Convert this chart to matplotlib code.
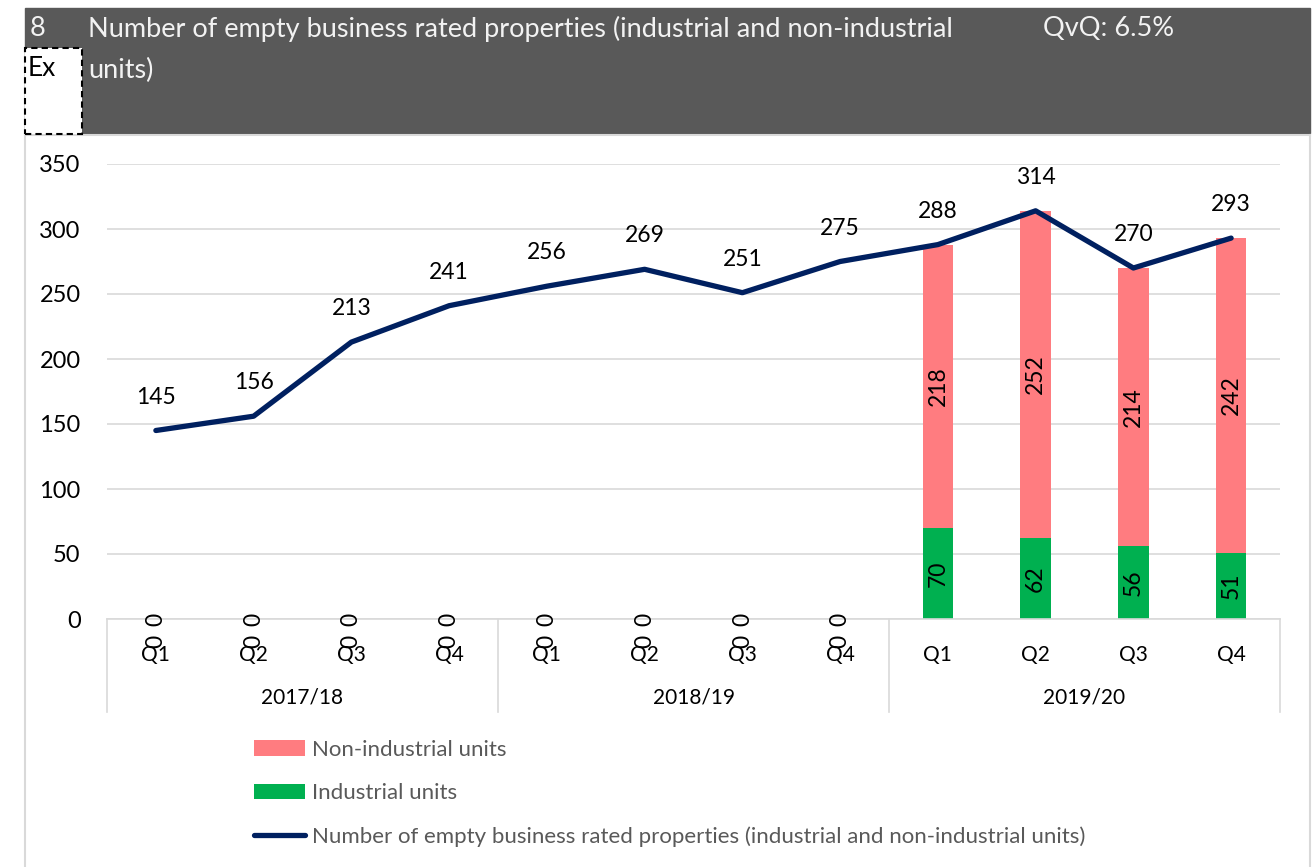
import matplotlib.pyplot as plt
from matplotlib.patches import Rectangle
from matplotlib.lines import Line2D
import matplotlib.transforms as mtransforms

plt.rcParams['font.family'] = ['Lato', 'DejaVu Sans']

# data
years = ['2017/18', '2018/19', '2019/20']
quarters = ['Q1', 'Q2', 'Q3', 'Q4'] * 3
total = [145, 156, 213, 241, 256, 269, 251, 275, 288, 314, 270, 293]
industrial = [0, 0, 0, 0, 0, 0, 0, 0, 70, 62, 56, 51]
non_industrial = [0, 0, 0, 0, 0, 0, 0, 0, 218, 252, 214, 242]

W, H = 1313, 867
fig = plt.figure(figsize=(W / 100, H / 100), dpi=100)

def fx(px):
    return px / W

def fy(py):
    return 1 - py / H

# header band
fig.patches.append(Rectangle((fx(25), fy(133)), fx(1310 - 25), (133 - 8) / H,
                             transform=fig.transFigure, color='#595959', zorder=0))
# chart frame
fig.add_artist(Line2D([fx(25), fx(1310)], [fy(135), fy(135)], color='#D9D9D9', lw=1.5))
fig.add_artist(Line2D([fx(25), fx(25)], [fy(135), 0], color='#D9D9D9', lw=1.5))
fig.add_artist(Line2D([fx(1310), fx(1310)], [fy(135), 0], color='#D9D9D9', lw=1.5))
# "Ex" box
fig.patches.append(Rectangle((fx(25), fy(134)), fx(57), 86 / H, transform=fig.transFigure,
                             facecolor='white', edgecolor='black', ls=(0, (3, 2)), lw=1.5, zorder=2))
fig.text(fx(28), fy(68), 'Ex', fontsize=19, color='black', va='center', zorder=3)

hdr_color = '#F2F2F2'
fig.text(fx(30), fy(29), '8', fontsize=19.5, color=hdr_color, va='center')
fig.text(fx(88), fy(29), 'Number of empty business rated properties (industrial and non-industrial',
         fontsize=19.5, color=hdr_color, va='center')
fig.text(fx(88), fy(70), 'units)', fontsize=19.5, color=hdr_color, va='center')
fig.text(fx(1043), fy(29), 'QvQ: 6.5%', fontsize=19.5, color=hdr_color, va='center')

ax = fig.add_axes([fx(107), fy(619), fx(1280 - 107), (619 - 164) / H])
x = list(range(len(total)))

ax.bar(x, industrial, width=0.31, color='#00B050', label='Industrial units', zorder=2)
ax.bar(x, non_industrial, width=0.31, bottom=industrial, color='#FF7C80',
       label='Non-industrial units', zorder=2)
ax.plot(x, total, color='#002060', lw=3.8, solid_capstyle='round', solid_joinstyle='round',
        label='Number of empty business rated properties (industrial and non-industrial units)', zorder=3)

ax.set_xlim(-0.5, len(total) - 0.5)
ax.set_ylim(0, 350)
ax.set_yticks(range(0, 351, 50))
ax.grid(axis='y', color='#D9D9D9', lw=1.2)
ax.set_axisbelow(True)
for s in ['top', 'right', 'left']:
    ax.spines[s].set_visible(False)
ax.spines['bottom'].set_color('#D9D9D9')
ax.spines['bottom'].set_linewidth(1.2)
ax.tick_params(axis='y', length=0, labelsize=17, pad=19)
ax.set_xticks(x)
ax.set_xticklabels(quarters)
ax.tick_params(axis='x', length=0, labelsize=15, pad=19)

# line labels
for xi, v in zip(x, total):
    ax.annotate(str(v), (xi, v), xytext=(0, 24), textcoords='offset points',
                ha='center', va='center', fontsize=16.5)

# bar labels
for xi, g, p in zip(x, industrial, non_industrial):
    ax.text(xi, g / 2, str(g), rotation=90, ha='center', va='center', fontsize=16.5)
    if p == 0:
        ax.annotate(str(p), (xi, g), xytext=(0, -16), textcoords='offset points',
                    rotation=90, ha='center', va='center', fontsize=16.5)
    else:
        ax.text(xi, g + p / 2, str(p), rotation=90, ha='center', va='center', fontsize=16.5)

# year groups on category axis
trans = mtransforms.blended_transform_factory(ax.transData, ax.transAxes)
sep_depth = -(712 - 619) / (619 - 164)
for k in range(len(years) + 1):
    ax.plot([k * 4 - 0.5, k * 4 - 0.5], [0, sep_depth], transform=trans,
            color='#D9D9D9', lw=1.2, clip_on=False)
for k, yr in enumerate(years):
    ax.text(k * 4 + 1.5, -(697 - 619) / (619 - 164), yr, transform=trans,
            ha='center', va='center', fontsize=15)

handles, labels = ax.get_legend_handles_labels()
order = [2, 1, 0]
leg = fig.legend([handles[i] for i in order], [labels[i] for i in order],
                 loc='upper left', bbox_to_anchor=(fx(234), fy(720)), frameon=False,
                 fontsize=16, handlelength=2.3, handletextpad=0.3, labelspacing=1.05,
                 labelcolor='#595959')

fig.savefig('out.png', dpi=100)
